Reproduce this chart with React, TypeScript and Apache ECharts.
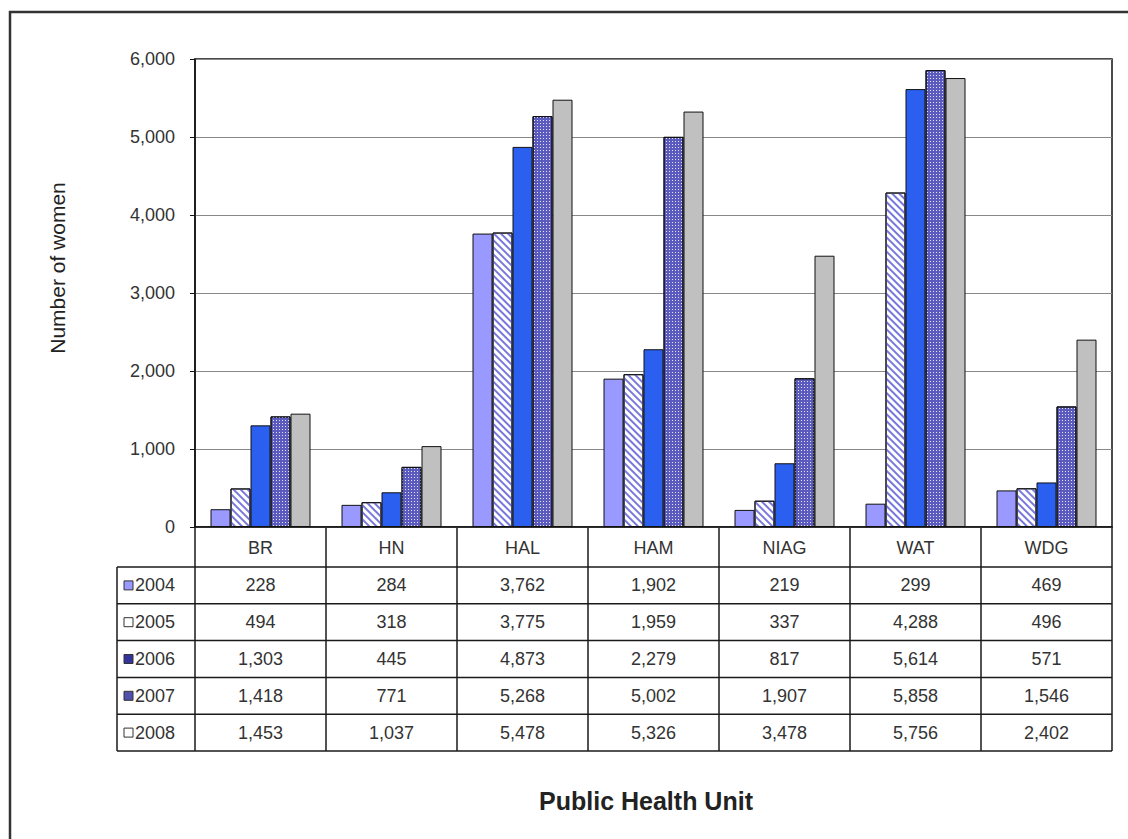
import React, { useEffect, useRef } from "react";
import * as echarts from "echarts";

const categories = ["BR", "HN", "HAL", "HAM", "NIAG", "WAT", "WDG"];
const years = ["2004", "2005", "2006", "2007", "2008"];
const v2004 = [228, 284, 3762, 1902, 219, 299, 469];
const v2005 = [494, 318, 3775, 1959, 337, 4288, 496];
const v2006 = [1303, 445, 4873, 2279, 817, 5614, 571];
const v2007 = [1418, 771, 5268, 5002, 1907, 5858, 1546];
const v2008 = [1453, 1037, 5478, 5326, 3478, 5756, 2402];
const seriesValues = [v2004, v2005, v2006, v2007, v2008];
const yAxisTitle = "Number of women";
const xAxisTitle = "Public Health Unit";

const W = 1128;
const H = 839;
const L = 195;
const R = 1112;
const T = 59;
const B = 527;
const HEADER_B = 567;
const ROW_H = 36.8;
const LEG_L = 117;
const FONT = 'Arial, "Liberation Sans", sans-serif';
const LINE = "#1a1a1a";
const TXT = "#333";

const styles: any[] = [
  { color: "#9999ff", borderColor: "#111", borderWidth: 1 },
  {
    color: "#ffffff",
    borderColor: "#111",
    borderWidth: 1,
    decal: {
      symbol: "rect",
      symbolSize: 1,
      color: "#7878dc",
      dashArrayX: [1, 0],
      dashArrayY: [2, 3],
      rotation: Math.PI / 4,
    },
  },
  { color: "#2b5ff0", borderColor: "#111", borderWidth: 1 },
  {
    color: "#5a5abf",
    borderColor: "#111",
    borderWidth: 1,
    decal: {
      symbol: "rect",
      symbolSize: 1,
      color: "#e4e4ff",
      dashArrayX: [1, 2],
      dashArrayY: [1, 2],
      rotation: 0,
    },
  },
  { color: "#c0c0c0", borderColor: "#111", borderWidth: 1 },
];

const iconFill = ["#9999ff", "#ffffff", "#333399", "#5151ad", "#ffffff"];

const fmt = (v: number) => v.toLocaleString("en-US");

export default function App() {
  const ref = useRef<HTMLDivElement>(null);
  useEffect(() => {
    if (!ref.current) return;
    const chart = echarts.init(ref.current, undefined, { renderer: "svg" });
    const catW = (R - L) / categories.length;
    const tableB = HEADER_B + ROW_H * years.length;
    const g: any[] = [];
    g.push({
      type: "rect",
      shape: { x: 10, y: 12, width: 1130, height: 840 },
      style: { fill: "none", stroke: "#333", lineWidth: 2.5 },
    });
    for (let i = 0; i <= years.length; i++) {
      const y = HEADER_B + ROW_H * i;
      g.push({
        type: "line",
        shape: { x1: LEG_L, y1: y, x2: R, y2: y },
        style: { stroke: LINE, lineWidth: 1.5 },
      });
    }
    g.push({
      type: "line",
      shape: { x1: LEG_L, y1: HEADER_B, x2: LEG_L, y2: tableB },
      style: { stroke: LINE, lineWidth: 1.5 },
    });
    for (let c = 0; c <= categories.length; c++) {
      const x = L + catW * c;
      g.push({
        type: "line",
        shape: { x1: x, y1: B, x2: x, y2: tableB },
        style: { stroke: LINE, lineWidth: 1.5 },
      });
    }
    years.forEach((yr, i) => {
      const cy = HEADER_B + ROW_H * i + ROW_H / 2;
      g.push({
        type: "rect",
        shape: { x: 124, y: cy - 4.5, width: 9, height: 9 },
        style: { fill: iconFill[i], stroke: "#333", lineWidth: 1 },
      });
      g.push({
        type: "text",
        x: 135,
        y: cy,
        style: {
          text: yr,
          fontSize: 18,
          fontFamily: FONT,
          fill: TXT,
          textAlign: "left",
          textVerticalAlign: "middle",
        },
      });
      seriesValues[i].forEach((v, c) => {
        g.push({
          type: "text",
          x: L + catW * c + catW / 2,
          y: cy,
          style: {
            text: fmt(v),
            fontSize: 18,
            fontFamily: FONT,
            fill: TXT,
            textAlign: "center",
            textVerticalAlign: "middle",
          },
        });
      });
    });
    g.push({
      type: "text",
      x: 57,
      y: 268,
      rotation: Math.PI / 2,
      style: {
        text: yAxisTitle,
        fontSize: 21,
        fontFamily: FONT,
        fill: "#222",
        textAlign: "center",
        textVerticalAlign: "middle",
      },
    });
    g.push({
      type: "text",
      x: 646,
      y: 801,
      style: {
        text: xAxisTitle,
        fontSize: 25,
        fontWeight: "bold",
        fontFamily: FONT,
        fill: "#222",
        textAlign: "center",
        textVerticalAlign: "middle",
      },
    });

    chart.setOption({
      animation: false,
      backgroundColor: "#ffffff",
      grid: {
        left: L,
        right: W - R,
        top: T,
        bottom: H - B,
        show: true,
        borderColor: "#111",
        borderWidth: 1.5,
        backgroundColor: "transparent",
      },
      xAxis: {
        type: "category",
        data: categories,
        axisLine: { lineStyle: { color: "#111", width: 1.5 } },
        axisTick: { show: false },
        axisLabel: {
          margin: 12,
          fontSize: 18,
          fontFamily: FONT,
          color: TXT,
        },
      },
      yAxis: {
        type: "value",
        min: 0,
        max: 6000,
        interval: 1000,
        axisLine: { show: true, lineStyle: { color: "#111", width: 1.5 } },
        axisTick: { show: true, length: 5, lineStyle: { color: "#111" } },
        axisLabel: {
          margin: 20,
          fontSize: 18,
          fontFamily: FONT,
          color: TXT,
          formatter: (v: number) => fmt(v),
        },
        splitLine: { lineStyle: { color: "#888", width: 1.2 } },
      },
      series: years.map((yr, i) => ({
        name: yr,
        type: "bar",
        data: seriesValues[i],
        barWidth: 20,
        barGap: "0%",
        itemStyle: styles[i],
      })),
      graphic: g,
    });
    return () => chart.dispose();
  }, []);
  return (
    <div
      ref={ref}
      style={{ position: "fixed", left: 0, top: 0, width: W, height: H, background: "#fff" }}
    />
  );
}
